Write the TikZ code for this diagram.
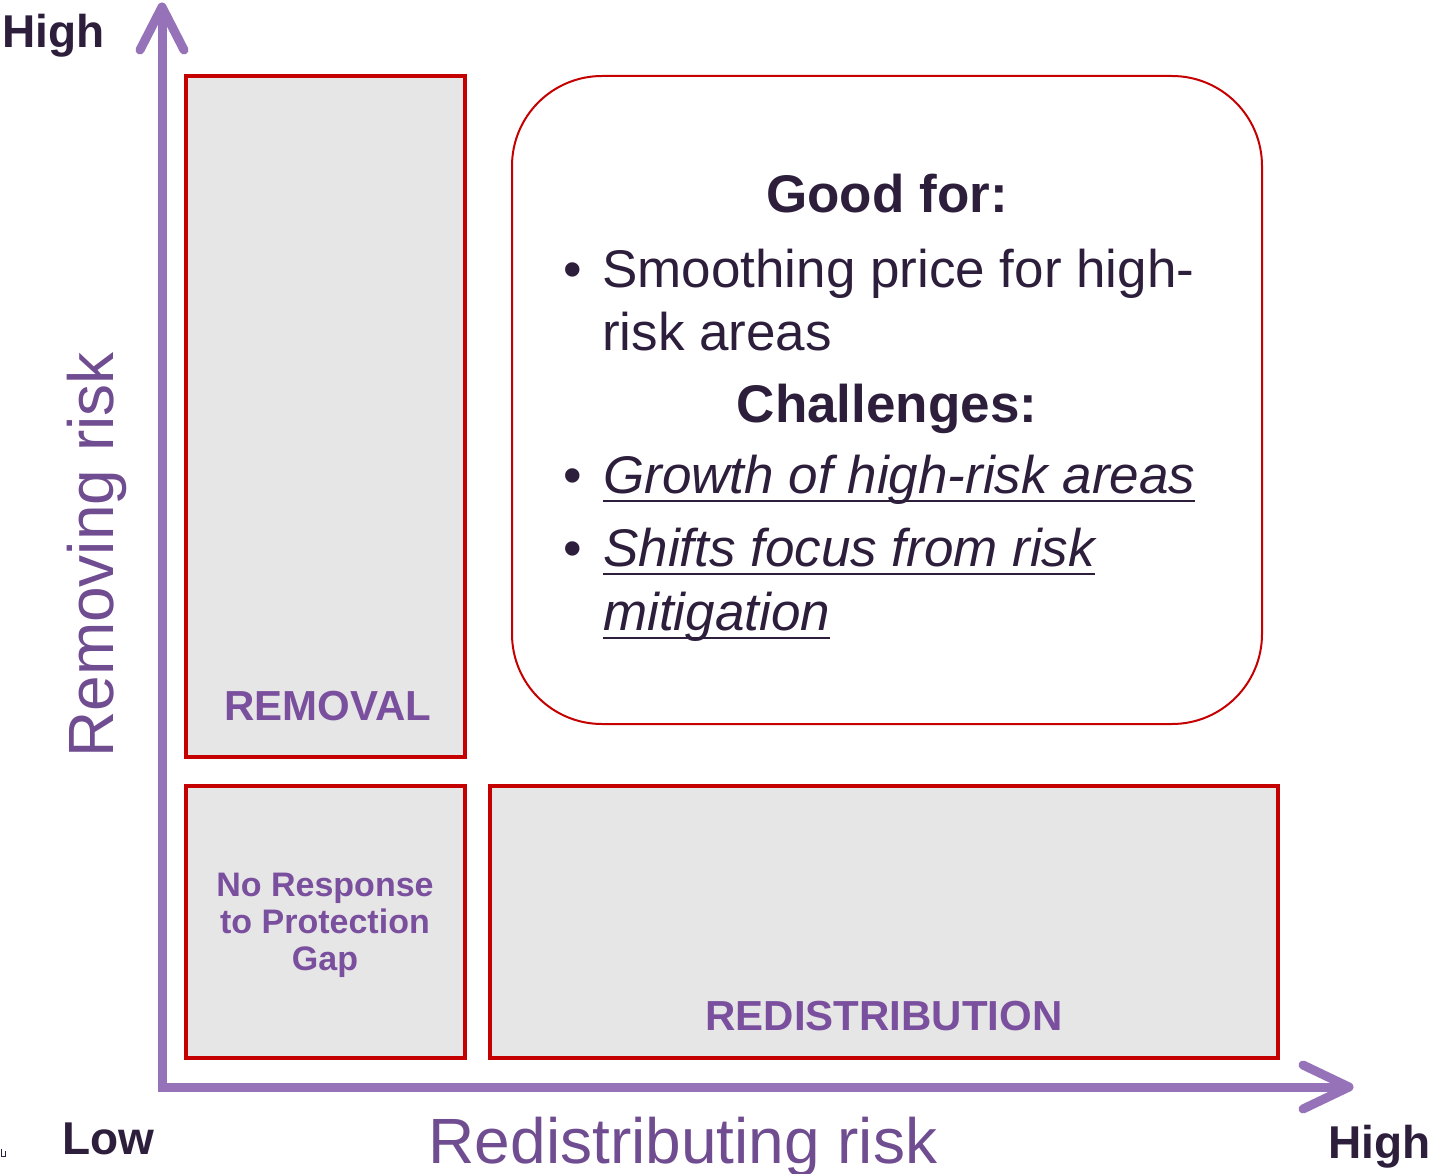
\documentclass[tikz,border=0pt]{standalone}
\usepackage{fontspec}
\setmainfont{Liberation Sans}
\usetikzlibrary{calc}
\definecolor{ink}{RGB}{45,30,60}
\definecolor{axispurple}{RGB}{150,115,185}
\definecolor{zonepurple}{RGB}{122,80,158}
\definecolor{titlepurple}{RGB}{112,76,144}
\definecolor{boxred}{RGB}{196,0,0}
\definecolor{boxgray}{RGB}{230,230,230}
\begin{document}
\begin{tikzpicture}[x=1pt,y=-1pt,
  axis/.style={draw=axispurple,line width=9pt,line join=miter},
  axishead/.style={draw=axispurple,line width=9pt,line cap=round,line join=round},
  zone/.style={draw=boxred,fill=boxgray,line width=3.5pt},
  note/.style={draw=boxred,fill=white,line width=2pt,rounded corners=90pt},
  endlabel/.style={inner sep=0pt,text=ink,font=\fontsize{46}{50}\selectfont\bfseries},
  axistitle/.style={inner sep=0pt,text=titlepurple,font=\fontsize{64}{70}\selectfont},
  zonelabel/.style={inner sep=0pt,text=zonepurple,font=\fontsize{42}{46}\selectfont\bfseries},
  smalllabel/.style={inner sep=0pt,text=zonepurple,align=center,font=\fontsize{34}{37}\selectfont\bfseries},
  heading/.style={inner sep=0pt,text=ink,anchor=base,font=\fontsize{53}{63}\selectfont\bfseries},
  body/.style={inner sep=0pt,text=ink,anchor=base west,font=\fontsize{53}{63}\selectfont},
  bodyit/.style={body,font=\fontsize{53}{63}\selectfont\itshape},
  uline/.style={draw=ink,line width=2.6pt}
]
\useasboundingbox (0,0) rectangle (1435,1174);

% quadrant boxes
\draw[zone] (186,76) rectangle (465,757);
\draw[zone] (186,786) rectangle (465,1058);
\draw[zone] (490,786) rectangle (1278,1058);
\draw[note] (512,76) rectangle (1262,724);

% axes
\coordinate (origin) at (162,1087);
\coordinate (ytip) at (162,7);
\coordinate (xtip) at (1349,1087);
\draw[axis] (ytip) -- (origin) -- (xtip);
\draw[axishead] ($(ytip)+(-22,43)$) -- (ytip) -- ($(ytip)+(22,43)$);
\draw[axishead] ($(xtip)+(-46,-22)$) -- (xtip) -- ($(xtip)+(-46,22)$);

% axis end labels
\node[endlabel,anchor=base west] (yhigh) at (2,48) {High};
\node[endlabel,anchor=base west] (low) at (62,1154) {Low};
\node[endlabel,anchor=base west] (xhigh) at (1328,1158) {High};

% axis titles
\node[axistitle,anchor=base,rotate=90] (ytitle) at (113,555) {Removing risk};
\node[axistitle,anchor=base] (xtitle) at (683,1163) {Redistributing risk};

% quadrant labels
\node[zonelabel,anchor=base] (removal) at (328,720) {REMOVAL};
\node[zonelabel,anchor=base] (redis) at (884,1030) {REDISTRIBUTION};
\node[smalllabel] (noresp) at (325,925) {No Response\\to Protection\\Gap};

% note contents
\node[heading] (good) at (887,213) {Good for:};
\node[body] (b1) at (563,288) {•};
\node[body] (t1) at (602,288) {Smoothing price for high-};
\node[body] (t1b) at (602,350) {risk areas};
\node[heading] (chal) at (887,422) {Challenges:};
\node[body] (b2) at (563,493) {•};
\node[bodyit] (t2) at (603,493) {Growth of high-risk areas};
\node[body] (b3) at (563,566) {•};
\node[bodyit] (t3) at (603,566) {Shifts focus from risk};
\node[bodyit] (t3b) at (603,630) {mitigation};
\draw[uline] ($(t2.base west)+(0,8)$) -- ($(t2.base east)+(0,8)$);
\draw[uline] ($(t3.base west)+(0,8)$) -- ($(t3.base east)+(0,8)$);
\draw[uline] ($(t3b.base west)+(0,8)$) -- ($(t3b.base east)+(0,8)$);

% small corner mark
\draw[ink,line width=0.8pt] (1,1149) -- (1,1156) -- (5,1156) -- (5,1151);
\end{tikzpicture}
\end{document}
